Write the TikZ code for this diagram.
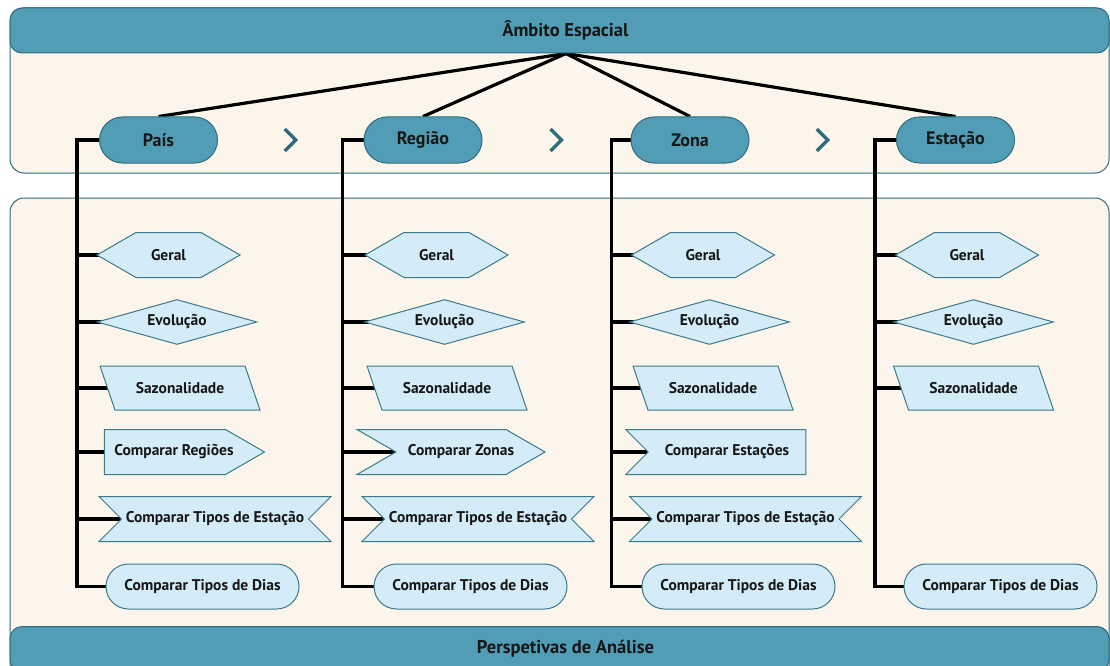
\documentclass[tikz,border=0pt]{standalone}
\usepackage{fontspec}
\setmainfont{PT Sans}
\usetikzlibrary{shapes.geometric, shapes.symbols, shapes.misc, calc, backgrounds}

\definecolor{cream}{HTML}{FCF5EC}
\definecolor{tealband}{HTML}{529DB6}
\definecolor{tealdark}{HTML}{2F6B7D}
\definecolor{skyfill}{HTML}{D3ECF7}
\definecolor{skyline}{HTML}{3C7A8B}
\definecolor{ink}{HTML}{161616}

\pgfdeclarelayer{back}
\pgfsetlayers{back,background,main}

% nudge a label sideways inside its shape
\newcommand{\nudged}[2]{\hspace*{#1}#2\hspace*{-#1}}

\begin{document}
\begin{tikzpicture}[x=1pt, y=-1pt,
    font=\bfseries\fontsize{15.5}{17}\selectfont, text=ink,
    panel/.style={draw=tealdark, line width=1pt, fill=cream, rounded corners=14pt},
    banner/.style={draw=tealdark, line width=1pt, fill=tealband, rounded corners=12pt,
                   minimum width=1099pt, minimum height=45pt, font=\bfseries\fontsize{18.5}{20}\selectfont},
    level/.style={draw=tealdark, line width=1pt, fill=tealband, rounded rectangle, inner sep=0pt,
                  minimum width=118pt, minimum height=46pt, font=\bfseries\fontsize{18}{20}\selectfont},
    view/.style={draw=skyline, line width=1pt, fill=skyfill, inner sep=0pt, minimum height=45pt},
    hexa/.style={view, signal, signal to=west and east, signal pointer angle=60, minimum width=143pt},
    rhomb/.style={view, diamond, aspect=3.5, minimum width=160pt},
    slant/.style={view, trapezium, trapezium left angle=132, trapezium right angle=48,
                  trapezium stretches=true, minimum width=160pt, minimum height=44pt},
    tag/.style={view, signal, signal to=east, signal pointer angle=60},
    chevbox/.style={view, signal, signal from=west, signal to=east, signal pointer angle=60},
    notchbox/.style={view, signal, signal from=west, signal to=nowhere, signal pointer angle=90},
    ribbon/.style={view, signal, signal from=west and east, signal to=nowhere,
                   signal pointer angle=90, minimum width=232pt},
    days/.style={view, rounded rectangle, minimum width=193pt},
    link/.style={line width=3.2pt, black},
    chev/.style={line width=3.5pt, tealdark}]

\useasboundingbox (0,0) rectangle (1110,666);
\clip (0,0) rectangle (1110,666);

% panels
\begin{pgfonlayer}{back}
  \fill[white] (0,0) rectangle (1110,666);
  \draw[panel] (10,8) rectangle (1109,173);
  \draw[panel] (10,198) rectangle (1109,720);
\end{pgfonlayer}

\node[banner] (ambito) at (559.5,30.5) {\nudged{6pt}{Âmbito Espacial}};
\node[banner] (analise) at (559.5,649) {\nudged{6pt}{Perspetivas de Análise}};

% spatial levels
\node[level] (pais) at (158.5,140) {País};
\node[level] (regiao) at (423,140) {Região};
\node[level] (zona) at (690,140) {Zona};
\node[level] (estacao) at (955.5,140) {Estação};

% analyses per level
\node[hexa] (geral1) at (168.5,255) {Geral};
\node[rhomb] (evol1) at (177,322) {Evolução};
\node[slant] (saz1) at (180,388) {Sazonalidade};
\node[tag, minimum width=160pt] (cmp1) at (165,452) {\nudged{9pt}{Comparar Regiões}};
\node[ribbon] (tipo1) at (215,519) {Comparar Tipos de Estação};
\node[days] (dias1) at (202.5,586.5) {Comparar Tipos de Dias};

\node[hexa] (geral2) at (436.5,255) {Geral};
\node[rhomb] (evol2) at (444.5,322) {Evolução};
\node[slant] (saz2) at (447,388) {Sazonalidade};
\node[chevbox, minimum width=188pt] (cmp2) at (451,452) {\nudged{10pt}{Comparar Zonas}};
\node[ribbon] (tipo2) at (478,519) {Comparar Tipos de Estação};
\node[days] (dias2) at (470.5,586.5) {Comparar Tipos de Dias};

\node[hexa] (geral3) at (703,255) {Geral};
\node[rhomb] (evol3) at (709.5,322) {Evolução};
\node[slant] (saz3) at (713,388) {Sazonalidade};
\node[notchbox, minimum width=180pt] (cmp3) at (727,452) {Comparar Estações};
\node[ribbon] (tipo3) at (745.5,519) {Comparar Tipos de Estação};
\node[days] (dias3) at (738.5,586.5) {Comparar Tipos de Dias};

\node[hexa] (geral4) at (967,255) {Geral};
\node[rhomb] (evol4) at (973.5,322) {Evolução};
\node[slant] (saz4) at (973.5,388) {Sazonalidade};
\node[days] (dias4) at (1000.5,586.5) {Comparar Tipos de Dias};

% trunks
\coordinate (t1) at ([xshift=-22pt]pais.west);
\coordinate (t2) at ([xshift=-21pt]regiao.west);
\coordinate (t3) at ([xshift=-19pt]zona.west);
\coordinate (t4) at ([xshift=-21pt]estacao.west);
\coordinate (hub) at ([xshift=6.5pt]ambito.south);

\begin{pgfonlayer}{background}
  \draw[link] (hub) -- (pais.north);
  \draw[link] (hub) -- (regiao.north);
  \draw[link] (hub) -- (zona.north);
  \draw[link] (hub) -- (estacao.north);

  \draw[link] (pais.center) -- (t1) |- (dias1.center);
  \draw[link] (regiao.center) -- (t2) |- (dias2.center);
  \draw[link] (zona.center) -- (t3) |- (dias3.center);
  \draw[link] (estacao.center) -- (t4) |- (dias4.center);

  \foreach \n in {geral1, evol1, saz1, cmp1, tipo1}
    \draw[link] (t1 |- \n.center) -- (\n.center);
  \foreach \n in {geral2, evol2, saz2, cmp2, tipo2}
    \draw[link] (t2 |- \n.center) -- (\n.center);
  \foreach \n in {geral3, evol3, saz3, cmp3, tipo3}
    \draw[link] (t3 |- \n.center) -- (\n.center);
  \foreach \n in {geral4, evol4, saz4}
    \draw[link] (t4 |- \n.center) -- (\n.center);
\end{pgfonlayer}

% step markers between levels
\draw[chev] ($(pais.east)!0.5!(regiao.west)$) ++(-6,-11) -- ++(11,11) -- ++(-11,11);
\draw[chev] ($(regiao.east)!0.5!(zona.west)$) ++(-6,-11) -- ++(11,11) -- ++(-11,11);
\draw[chev] ($(zona.east)!0.5!(estacao.west)$) ++(-6,-11) -- ++(11,11) -- ++(-11,11);

\end{tikzpicture}
\end{document}
